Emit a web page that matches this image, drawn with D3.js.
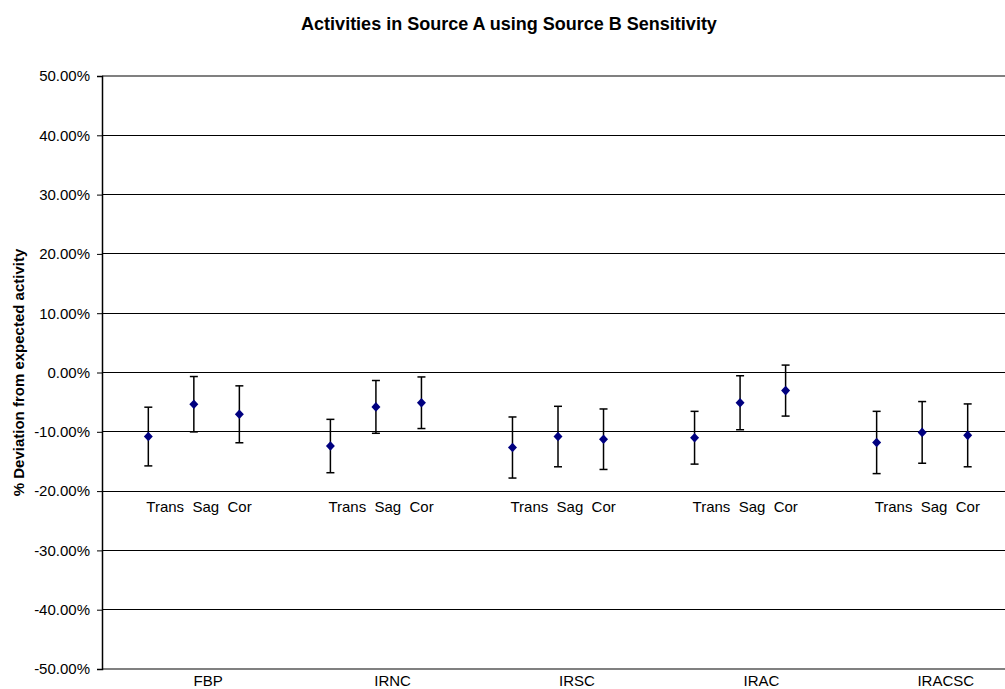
<!DOCTYPE html>
<html>
<head>
<meta charset="utf-8">
<script src="https://cdn.jsdelivr.net/npm/d3@7"></script>
<style>
  html, body { margin: 0; padding: 0; background: #fff; }
  svg { display: block; font-family: "Liberation Sans", Arial, sans-serif; }
</style>
</head>
<body>
<svg id="chart" width="1005" height="689"></svg>
<script>
// Phantom groups and the three view orientations measured in each
const groups = ["FBP", "IRNC", "IRSC", "IRAC", "IRACSC"];
const views = ["Trans", "Sag", "Cor"];

// Mean % deviation from expected activity, one row per group (Trans, Sag, Cor)
const deviation = [
  [-10.8, -5.35, -7.05],
  [-12.4, -5.8, -5.1],
  [-12.65, -10.8, -11.25],
  [-11.0, -5.1, -3.05],
  [-11.8, -10.1, -10.6]
];

// Half-width of the error bar for each point (percentage points)
const errorBar = [
  [4.95, 4.67, 4.8],
  [4.5, 4.45, 4.35],
  [5.15, 5.1, 5.1],
  [4.45, 4.55, 4.3],
  [5.25, 5.2, 5.3]
];

const yTicks = [50, 40, 30, 20, 10, 0, -10, -20, -30, -40, -50];

const points = [];
groups.forEach((g, gi) => {
  views.forEach((v, vi) => {
    points.push({
      group: g, view: v,
      slot: gi * (views.length + 1) + vi + 1,
      value: deviation[gi][vi],
      err: errorBar[gi][vi]
    });
  });
});

const svg = d3.select("#chart");
const plot = { left: 102, right: 1013, top: 76, bottom: 669 };

const slotCount = groups.length * (views.length + 1);
const x = d3.scaleLinear().domain([0, slotCount]).range([102.8, 1013.2]);
const y = d3.scaleLinear().domain([-50, 50]).range([plot.bottom, plot.top]);
const groupBand = d3.scaleBand().domain(groups).range([116, 1038]);

// Title
svg.append("text")
  .attr("x", 509).attr("y", 30)
  .attr("text-anchor", "middle")
  .attr("font-weight", "bold").attr("font-size", 18)
  .text("Activities in Source A using Source B Sensitivity");

// Horizontal gridlines
svg.append("g").selectAll("line")
  .data(yTicks.filter(t => t !== 50 && t !== -50))
  .join("line")
  .attr("x1", plot.left).attr("x2", plot.right)
  .attr("y1", d => y(d)).attr("y2", d => y(d))
  .attr("stroke", "#000").attr("stroke-width", 1)
  .attr("shape-rendering", "crispEdges");

// Plot-area border at top and bottom
[50, -50].forEach(t => {
  svg.append("line")
    .attr("x1", plot.left).attr("x2", plot.right)
    .attr("y1", y(t)).attr("y2", y(t))
    .attr("stroke", "#808080").attr("stroke-width", 2);
});

// Y axis, percentages with a plain hyphen for negatives
const yAxis = d3.axisLeft(y)
  .tickValues(yTicks)
  .tickSize(5)
  .tickPadding(7)
  .tickFormat(d => d.toFixed(2) + "%");

const yAxisG = svg.append("g")
  .attr("transform", `translate(${plot.left},0)`)
  .call(yAxis);
yAxisG.select(".domain").attr("stroke", "#000").attr("stroke-width", 1.5);
yAxisG.selectAll(".tick line").attr("stroke", "#000").attr("stroke-width", 1);
yAxisG.selectAll(".tick text")
  .attr("font-family", "'Liberation Sans', Arial, sans-serif")
  .attr("font-size", 15).attr("fill", "#000");

// Y axis title
svg.append("text")
  .attr("transform", `translate(24,${(plot.top + plot.bottom) / 2}) rotate(-90)`)
  .attr("text-anchor", "middle")
  .attr("font-weight", "bold").attr("font-size", 15)
  .text("% Deviation from expected activity");

// Group labels below the plot
svg.append("g").selectAll("text")
  .data(groups)
  .join("text")
  .attr("x", d => groupBand(d) + groupBand.bandwidth() / 2)
  .attr("y", 686)
  .attr("text-anchor", "middle")
  .attr("font-size", 15)
  .text(d => d);

// View labels under each group of points
svg.append("g").selectAll("text")
  .data(groups)
  .join("text")
  .attr("x", (d, gi) => x(gi * (views.length + 1) + 1) - 2)
  .attr("y", 512)
  .attr("font-size", 15)
  .style("white-space", "pre")
  .text(views.join("  "));

// Error bars
const eb = svg.append("g").attr("stroke", "#000").attr("stroke-width", 1.5);
eb.selectAll("line.stem")
  .data(points).join("line").attr("class", "stem")
  .attr("x1", d => x(d.slot)).attr("x2", d => x(d.slot))
  .attr("y1", d => y(d.value + d.err)).attr("y2", d => y(d.value - d.err));
eb.selectAll("line.capTop")
  .data(points).join("line").attr("class", "capTop")
  .attr("x1", d => x(d.slot) - 4).attr("x2", d => x(d.slot) + 4)
  .attr("y1", d => y(d.value + d.err)).attr("y2", d => y(d.value + d.err));
eb.selectAll("line.capBot")
  .data(points).join("line").attr("class", "capBot")
  .attr("x1", d => x(d.slot) - 4).attr("x2", d => x(d.slot) + 4)
  .attr("y1", d => y(d.value - d.err)).attr("y2", d => y(d.value - d.err));

// Diamond markers
svg.append("g").selectAll("path")
  .data(points).join("path")
  .attr("transform", d => `translate(${x(d.slot)},${y(d.value)})`)
  .attr("d", "M0,-4.8L4.5,0L0,4.8L-4.5,0Z")
  .attr("fill", "#000080");
</script>
</body>
</html>
